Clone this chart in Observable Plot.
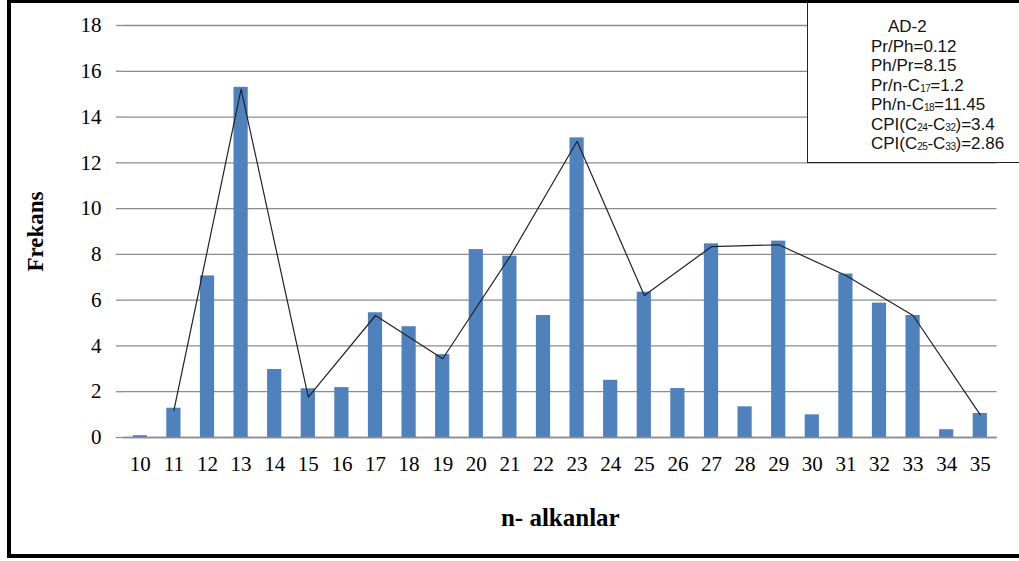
<!DOCTYPE html>
<html>
<head>
<meta charset="utf-8">
<script src="https://cdn.jsdelivr.net/npm/d3@7"></script>
<script src="https://cdn.jsdelivr.net/npm/@observablehq/plot@0.6"></script>
<style>
  html, body { margin: 0; padding: 0; background: #fff; overflow: hidden; }
  #wrap { position: relative; width: 1019px; height: 561px; overflow: hidden; }
  #wrap svg { position: absolute; left: 0; top: 0; }
  #border { position: absolute; left: 7px; top: -1px; width: 1040px; height: 559px;
            box-sizing: border-box; border: 4px solid #000; pointer-events: none; }
  #legend { position: absolute; left: 807px; top: -2px; width: 240px; height: 165px;
            box-sizing: border-box; border: 1px solid #222; background: #fff;
            font-family: "Liberation Sans", Arial, sans-serif; font-size: 17px; color: #111;
            padding-top: 18px; }
  #legend div { padding-left: 63px; white-space: nowrap; height: 19.5px; line-height: 19.5px; }
  #legend div.title { padding-left: 80px; }
  #legend sub { font-size: 10px; line-height: 0; vertical-align: baseline; position: relative; top: 1px; letter-spacing: -0.5px; }
</style>
</head>
<body>
<div id="wrap"></div>
<script>
// n-alkane carbon numbers (categories)
const carbons = [10,11,12,13,14,15,16,17,18,19,20,21,22,23,24,25,26,27,28,29,30,31,32,33,34,35];
// bar values (Frekans)
const frekans = [0.08,1.28,7.06,15.3,2.97,2.13,2.18,5.45,4.84,3.62,8.21,7.92,5.33,13.09,2.5,6.35,2.14,8.46,1.34,8.58,0.99,7.14,5.87,5.33,0.34,1.05];
// line series over odd carbons
const lineCarbons = [11,13,15,17,19,21,23,25,27,29,31,33,35];
const lineValues = [1.18,15.22,1.76,5.33,3.44,7.9,12.94,6.2,8.34,8.42,7.08,5.33,0.99];
const yTicks = [0,2,4,6,8,10,12,14,16,18];
const legendLines = [
  {cls: "title", html: "AD-2"},
  {html: "Pr/Ph=0.12"},
  {html: "Ph/Pr=8.15"},
  {html: "Pr/n-C<sub>17</sub>=1.2"},
  {html: "Ph/n-C<sub>18</sub>=11.45"},
  {html: "CPI(C<sub>24</sub>-C<sub>32</sub>)=3.4"},
  {html: "CPI(C<sub>25</sub>-C<sub>33</sub>)=2.86"}
];

const bars = carbons.map((c, i) => ({c, v: frekans[i]}));
const pts = lineCarbons.map((c, i) => ({c, v: lineValues[i]}));

const serif = "'Liberation Serif', 'Times New Roman', serif";

const chart = Plot.plot({
  width: 1019,
  height: 561,
  marginLeft: 123,
  marginRight: 22.4,
  marginTop: 25,
  marginBottom: 124,
  style: {fontFamily: serif, fontSize: "21px", background: "transparent"},
  x: {type: "band", domain: carbons, padding: 0, round: false},
  y: {domain: [0, 18]},
  marks: [
    Plot.gridY(yTicks, {stroke: "#8c8c8c", strokeOpacity: 1, strokeWidth: 1.3}),
    Plot.axisY(yTicks, {tickSize: 7, tickPadding: 15, stroke: "#8c8c8c", strokeWidth: 1.3,
      fontSize: 21, fill: "#000", label: null, tickFormat: d => String(d)}),
    Plot.ruleX([null], {frameAnchor: "left", stroke: "#8c8c8c", strokeWidth: 1.3}),
    Plot.barY(bars, {x: "c", y: "v", fill: "#4f81bd", insetLeft: 9.7, insetRight: 9.7}),
    Plot.ruleY([0], {stroke: "#8c8c8c", strokeWidth: 1.3}),
    Plot.line(pts, {x: "c", y: "v", stroke: "#222", strokeWidth: 1.2}),
    Plot.axisX({tickSize: 0, tickPadding: 19, fontSize: 21, fill: "#000", label: null}),
    Plot.text(["Frekans"], {frameAnchor: "left", textAnchor: "middle", dx: -88, rotate: -90,
      fontSize: 23, fontWeight: "bold", fill: "#000"}),
    Plot.text(["n- alkanlar"], {frameAnchor: "bottom", textAnchor: "middle", lineAnchor: "middle",
      dy: 80, fontSize: 25, fontWeight: "bold", fill: "#000"})
  ]
});

const wrap = document.getElementById("wrap");
wrap.appendChild(chart);

const legend = document.createElement("div");
legend.id = "legend";
legendLines.forEach(l => {
  const d = document.createElement("div");
  if (l.cls) d.className = l.cls;
  d.innerHTML = l.html;
  legend.appendChild(d);
});
wrap.appendChild(legend);

const border = document.createElement("div");
border.id = "border";
wrap.appendChild(border);
</script>
</body>
</html>
